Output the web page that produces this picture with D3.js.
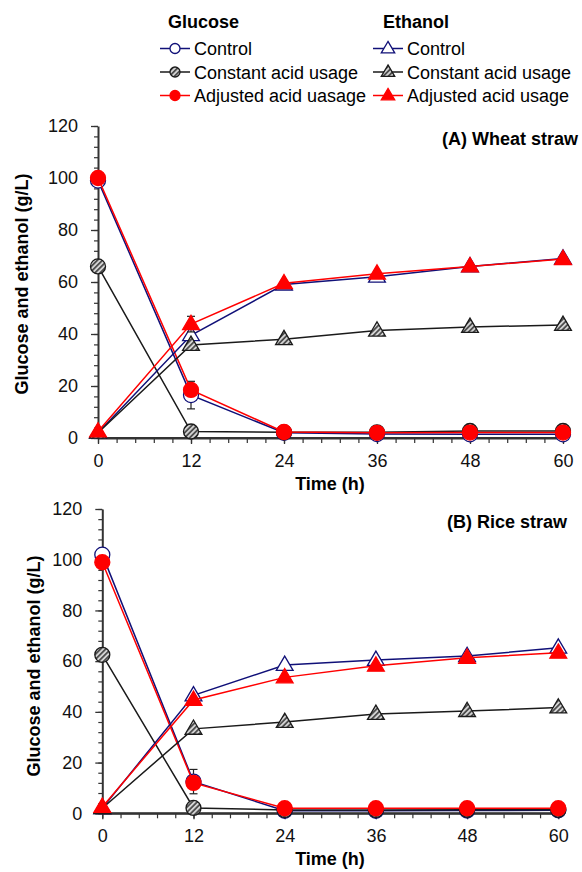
<!DOCTYPE html>
<html><head><meta charset="utf-8">
<script src="https://cdn.jsdelivr.net/npm/d3@7"></script>
<style>
body{margin:0;background:#fff;}
svg{font-family:"Liberation Sans",Arial,sans-serif;}
</style></head>
<body>
<svg id="c" width="582" height="872"></svg>
<script>
const hours = [0, 12, 24, 36, 48, 60];
const xTickValues = [0, 12, 24, 36, 48, 60];
const yTickValues = [0, 20, 40, 60, 80, 100, 120];
const seriesNames = ["Control", "Constant acid usage", "Adjusted acid uasage"];
const ethanolNames = ["Control", "Constant acid usage", "Adjusted acid usage"];

const wheatGlucoseControl = [99, 16.5, 2, 1.5, 1.4, 1.4];
const wheatGlucoseConstant = [66, 2.5, 2.2, 2.2, 2.7, 2.7];
const wheatGlucoseAdjusted = [100, 18.5, 2.3, 2, 2.1, 2.1];
const wheatEthanolControl = [2, 39.5, 59, 62, 66, 69];
const wheatEthanolConstant = [2, 35.8, 38, 41.3, 42.7, 43.5];
const wheatEthanolAdjusted = [2.5, 43.8, 59.5, 63.2, 66, 68.8];
const wheatGlucoseControlErr = [0, 5.3, 0, 0, 0, 0];
const wheatEthanolAdjustedErr = [0, 3, 0, 0, 0, 0];

const riceGlucoseControl = [102, 12.5, 1, 1, 1.1, 1.2];
const riceGlucoseConstant = [62.5, 2.1, 1.3, 1.3, 1.4, 1.4];
const riceGlucoseAdjusted = [99, 12, 2, 2, 2, 2];
const riceEthanolControl = [2, 46.5, 58.5, 60.5, 62, 65.3];
const riceEthanolConstant = [2, 33.3, 36, 39.2, 40.3, 41.7];
const riceEthanolAdjusted = [2.5, 44.7, 53.6, 58.2, 61.3, 63.3];
const riceGlucoseControlErr = [0, 4.8, 0, 0, 0, 0];

const NAVY = "#101078", RED = "#ff0000", BLACK = "#1a1a1a";
const svg = d3.select("#c");
const defs = svg.append("defs");
const pat = defs.append("pattern").attr("id","hatch").attr("patternUnits","userSpaceOnUse")
  .attr("width",3.6).attr("height",3.6).attr("patternTransform","rotate(45)");
pat.append("rect").attr("width",3.6).attr("height",3.6).attr("fill","#d4d4d4");
pat.append("line").attr("x1",0.9).attr("x2",0.9).attr("y1",0).attr("y2",3.6).attr("stroke","#333").attr("stroke-width",1.5);

const styles = [
  {color:NAVY, fill:"#fff"},
  {color:BLACK, fill:"url(#hatch)"},
  {color:RED, fill:RED}
];

function marker(g, type, x, y, st, size){
  if(type==="circle"){
    g.append("circle").attr("cx",x).attr("cy",y).attr("r",size)
      .attr("fill",st.fill).attr("stroke",st.color).attr("stroke-width",1.3);
  } else {
    const w=size*1.12, h=size*1.9;
    g.append("path").attr("d",`M${x},${y-h*0.62}L${x+w},${y+h*0.38}L${x-w},${y+h*0.38}Z`)
      .attr("fill",st.fill).attr("stroke",st.color).attr("stroke-width",1.3).attr("stroke-linejoin","miter");
  }
}

// Legend
const lg = svg.append("g");
const legendCols = [{x:160, title:"Glucose", tx:168, type:"circle", names:seriesNames},
                    {x:373, title:"Ethanol", tx:383, type:"tri", names:ethanolNames}];
const rowY = [48.5, 72, 95.5];
legendCols.forEach(col=>{
  lg.append("text").attr("x",col.tx).attr("y",28).attr("font-size",18).attr("font-weight","bold").text(col.title);
  col.names.forEach((n,i)=>{
    const st=styles[i];
    lg.append("line").attr("x1",col.x).attr("x2",col.x+30).attr("y1",rowY[i]).attr("y2",rowY[i])
      .attr("stroke",st.color).attr("stroke-width",1.5);
    marker(lg, col.type, col.x+15, rowY[i], st, col.type==="circle"?5:6);
    lg.append("text").attr("x",col.x+34).attr("y",rowY[i]+6.5).attr("font-size",18).text(n);
  });
});

function panel(cfg){
  const x = d3.scaleLinear().domain([0,60]).range([cfg.x0, cfg.x1]);
  const y = d3.scaleLinear().domain([0,120]).range([cfg.y0, cfg.y1]);
  const g = svg.append("g");
  // minor ticks
  const xMinor = d3.range(0, 60.01, 2.4);
  const yMinor = d3.range(0, 120.01, 4);
  const ax = g.append("g").attr("transform",`translate(0,${cfg.y0})`)
    .call(d3.axisBottom(x).tickValues(xMinor).tickSize(5).tickFormat(""));
  ax.selectAll(".domain").remove();
  ax.selectAll("line").attr("stroke","#333").attr("stroke-width",1.2);
  const ay = g.append("g").attr("transform",`translate(${cfg.x0},0)`)
    .call(d3.axisLeft(y).tickValues(yMinor).tickSize(4).tickFormat(""));
  ay.selectAll(".domain").remove();
  ay.selectAll("line").attr("stroke","#333").attr("stroke-width",1.2);
  const xa = g.append("g").attr("transform",`translate(0,${cfg.y0})`)
    .call(d3.axisBottom(x).tickValues(xTickValues).tickSize(6).tickPadding(10).tickSizeOuter(0));
  xa.select(".domain").attr("stroke","#333").attr("stroke-width",2);
  xa.selectAll("line").attr("stroke","#333").attr("stroke-width",1.3);
  xa.selectAll("text").attr("font-size",18).attr("fill","#111").attr("font-family","Liberation Sans, Arial");
  const ya = g.append("g").attr("transform",`translate(${cfg.x0},0)`)
    .call(d3.axisLeft(y).tickValues(yTickValues).tickSize(7).tickPadding(13).tickSizeOuter(0));
  ya.select(".domain").attr("stroke","#333").attr("stroke-width",2);
  ya.selectAll("line").attr("stroke","#333").attr("stroke-width",1.3);
  ya.selectAll("text").attr("font-size",18).attr("fill","#111").attr("font-family","Liberation Sans, Arial");
  // redraw x-axis line extended to left tick
  g.append("line").attr("x1",cfg.x0-7).attr("x2",cfg.x1+1).attr("y1",cfg.y0).attr("y2",cfg.y0)
    .attr("stroke","#333").attr("stroke-width",2);

  // titles
  g.append("text").attr("x",cfg.titleX).attr("y",cfg.y1+19).attr("text-anchor","end")
    .attr("font-size",18).attr("font-weight","bold").text(cfg.title);
  g.append("text").attr("x",330).attr("y",cfg.y0+52).attr("text-anchor","middle")
    .attr("font-size",18).attr("font-weight","bold").text("Time (h)");
  g.append("text").attr("transform",`translate(${cfg.ytX},${cfg.ytY}) rotate(-90)`).attr("text-anchor","middle")
    .attr("font-size",18).attr("font-weight","bold").text("Glucose and ethanol (g/L)");

  const line = d3.line().x((d,i)=>x(hours[i])).y(d=>y(d));
  const all = [
    {v:cfg.gc, t:"circle", s:0, err:cfg.gcErr},
    {v:cfg.gk, t:"circle", s:1},
    {v:cfg.ga, t:"circle", s:2},
    {v:cfg.ec, t:"tri", s:0},
    {v:cfg.ek, t:"tri", s:1},
    {v:cfg.ea, t:"tri", s:2, err:cfg.eaErr}
  ];
  all.forEach(sr=>{
    const st = styles[sr.s];
    g.append("path").attr("d",line(sr.v)).attr("fill","none").attr("stroke",st.color).attr("stroke-width",1.5);
    if(sr.err){
      sr.err.forEach((e,i)=>{
        if(!e) return;
        const cx=x(hours[i]);
        g.append("line").attr("x1",cx).attr("x2",cx).attr("y1",y(sr.v[i]-e)).attr("y2",y(sr.v[i]+e)).attr("stroke","#222").attr("stroke-width",1.2);
        [sr.v[i]-e, sr.v[i]+e].forEach(vv=>g.append("line").attr("x1",cx-4).attr("x2",cx+4).attr("y1",y(vv)).attr("y2",y(vv)).attr("stroke","#222").attr("stroke-width",1.2));
      });
    }
    sr.v.forEach((d,i)=>marker(g, sr.t, x(hours[i]), y(d), st, sr.t==="circle"?7.5:7.5));
  });
}

panel({x0:98, x1:563, y0:438, y1:126, title:"(A) Wheat straw", titleX:578, ytX:28, ytY:284,
  gc:wheatGlucoseControl, gk:wheatGlucoseConstant, ga:wheatGlucoseAdjusted,
  ec:wheatEthanolControl, ek:wheatEthanolConstant, ea:wheatEthanolAdjusted,
  gcErr:wheatGlucoseControlErr, eaErr:wheatEthanolAdjustedErr});
panel({x0:102.3, x1:558.3, y0:813.3, y1:509, title:"(B) Rice straw", titleX:567, ytX:40, ytY:666,
  gc:riceGlucoseControl, gk:riceGlucoseConstant, ga:riceGlucoseAdjusted,
  ec:riceEthanolControl, ek:riceEthanolConstant, ea:riceEthanolAdjusted,
  gcErr:riceGlucoseControlErr});
</script>
</body></html>
